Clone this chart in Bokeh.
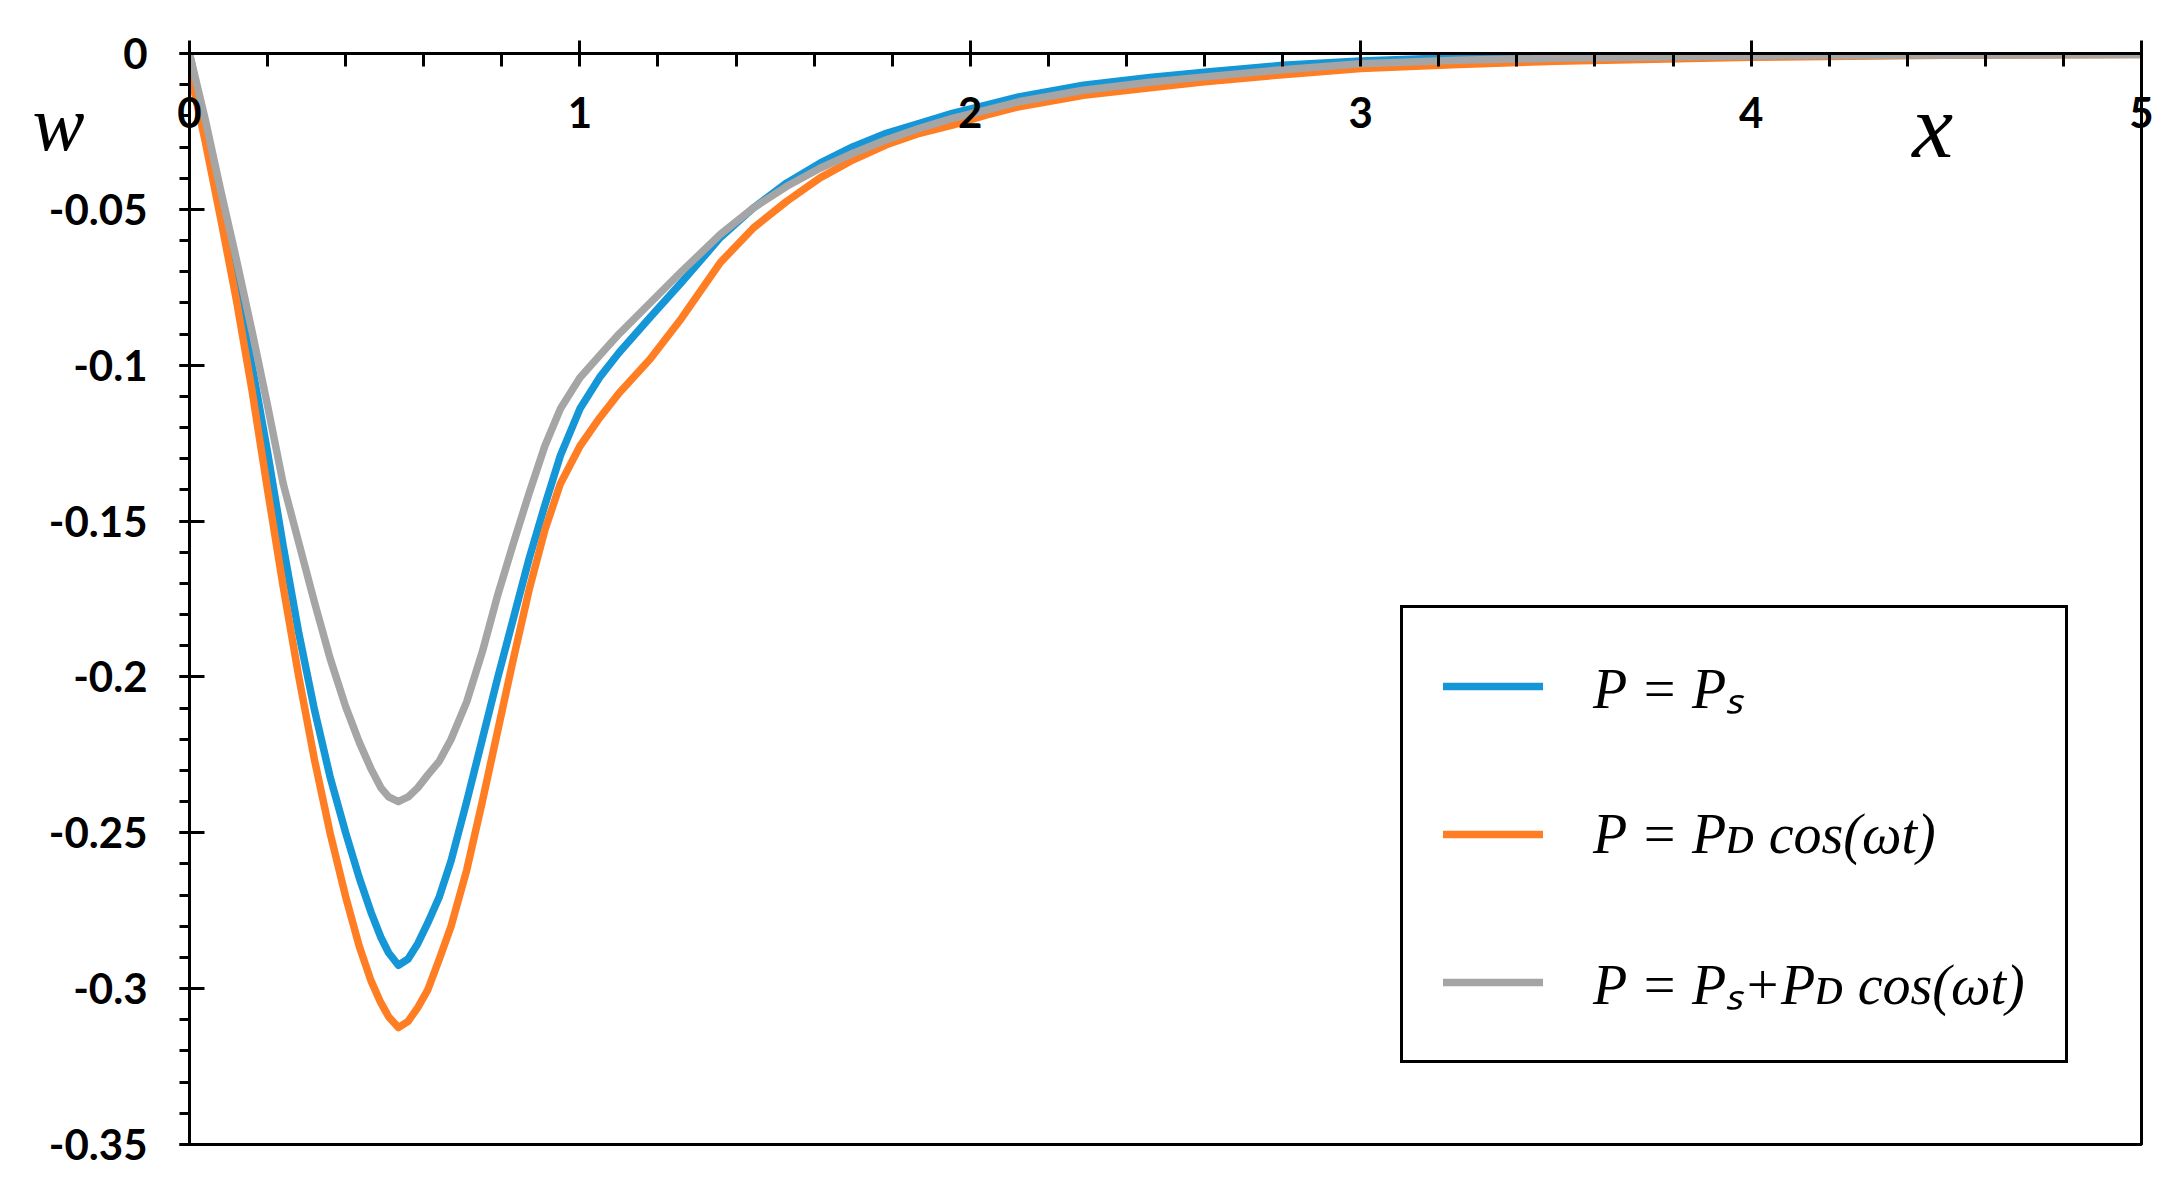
from bokeh.plotting import figure
from bokeh.models import (Range1d, FixedTicker, Legend, LegendItem, Label, LinearAxis,
                          CustomJSTickFormatter)
from bokeh.embed import file_html
from bokeh.resources import INLINE

# ---- data ----
x_blue = [0, 0.04, 0.08, 0.12, 0.16, 0.20, 0.24, 0.28, 0.32, 0.36, 0.40, 0.435, 0.465, 0.49,
          0.51, 0.535, 0.56, 0.585, 0.61, 0.64, 0.67, 0.71, 0.75, 0.79, 0.83, 0.87, 0.91,
          0.95, 1.00, 1.05, 1.10, 1.18, 1.26, 1.36, 1.445, 1.53, 1.615, 1.70, 1.785, 1.87,
          1.954, 2.04, 2.124, 2.29, 2.46, 2.60, 2.80, 3.00, 3.25, 3.50, 4.00, 4.50, 5.00]
w_blue = [0, -0.024, -0.049, -0.074, -0.100, -0.128, -0.158, -0.186, -0.2105, -0.232,
          -0.250, -0.2645, -0.2755, -0.2835, -0.2885, -0.2925, -0.2905, -0.2855, -0.279,
          -0.2705, -0.259, -0.240, -0.220, -0.200, -0.181, -0.162, -0.145, -0.129, -0.114,
          -0.104, -0.096, -0.0846, -0.0735, -0.059, -0.0495, -0.0415, -0.0352, -0.0299,
          -0.0256, -0.0224, -0.0192, -0.0166, -0.0139, -0.0102, -0.0077, -0.006, -0.0038,
          -0.0024, -0.0013, -0.0007, -0.0003, -0.0001, 0]

x_orange = [0, 0.04, 0.08, 0.12, 0.16, 0.20, 0.24, 0.28, 0.32, 0.36, 0.40, 0.435, 0.465,
            0.49, 0.51, 0.535, 0.56, 0.585, 0.61, 0.64, 0.67, 0.71, 0.75, 0.79, 0.83, 0.87,
            0.91, 0.95, 1.00, 1.05, 1.10, 1.18, 1.26, 1.36, 1.445, 1.53, 1.615, 1.70,
            1.785, 1.87, 1.954, 2.04, 2.124, 2.29, 2.46, 2.60, 2.80, 3.00, 3.25, 3.50,
            4.00, 4.50, 5.00]
w_orange = [-0.005, -0.028, -0.053, -0.079, -0.108, -0.140, -0.171, -0.200, -0.2265,
            -0.250, -0.2705, -0.2865, -0.2975, -0.3045, -0.309, -0.3125, -0.3105, -0.306,
            -0.3005, -0.2905, -0.280, -0.262, -0.240, -0.217, -0.194, -0.172, -0.153,
            -0.138, -0.126, -0.117, -0.109, -0.098, -0.085, -0.067, -0.0559, -0.0474,
            -0.0399, -0.0341, -0.0293, -0.0256, -0.023, -0.0198, -0.0171, -0.0134, -0.011,
            -0.0091, -0.0068, -0.0048, -0.0035, -0.0025, -0.0012, -0.0006, -0.0003]

x_gray = [0, 0.04, 0.08, 0.12, 0.16, 0.20, 0.24, 0.28, 0.32, 0.36, 0.40, 0.435, 0.465, 0.49,
          0.51, 0.535, 0.56, 0.585, 0.61, 0.64, 0.67, 0.71, 0.75, 0.79, 0.83, 0.87, 0.91,
          0.95, 1.00, 1.05, 1.10, 1.18, 1.26, 1.36, 1.445, 1.53, 1.615, 1.70, 1.785, 1.87,
          1.954, 2.04, 2.124, 2.29, 2.46, 2.60, 2.80, 3.00, 3.25, 3.50, 4.00, 4.50, 5.00]
w_gray = [0, -0.021, -0.044, -0.066, -0.089, -0.113, -0.138, -0.157, -0.176, -0.194,
          -0.2095, -0.221, -0.2295, -0.2355, -0.2385, -0.2400, -0.2385, -0.2355, -0.2315,
          -0.227, -0.220, -0.208, -0.192, -0.1735, -0.157, -0.141, -0.126, -0.114, -0.104,
          -0.097, -0.090, -0.080, -0.070, -0.058, -0.0495, -0.0426, -0.0368, -0.032,
          -0.0277, -0.024, -0.0208, -0.0182, -0.0155, -0.0118, -0.0092, -0.0075, -0.0052,
          -0.0033, -0.0022, -0.0015, -0.0008, -0.0005, -0.0003]

series_labels = ["P = Pₛ", "P = Pᴅ cos(ωt)", "P = Pₛ+Pᴅ cos(ωt)"]
x_name = "x"
w_name = "w"
w_name_pos = [-0.0224]          # vertical place of the "w" name along the y axis
x_ticks = [0, 1, 2, 3, 4, 5]
x_minor_ticks = [round(i * 0.2, 2) for i in range(26)]
y_ticks = [0, -0.05, -0.1, -0.15, -0.2, -0.25, -0.3, -0.35]
y_minor_ticks = [round(-i * 0.01, 2) for i in range(36)]

BLUE = "#1496d7"
ORANGE = "#ff7d23"
GRAY = "#a5a5a5"
TICK_FONT = "Lato"
NAME_FONT = "Liberation Serif"
LINE_W = 7.5

p = figure(width=2166, height=1179, output_backend="svg", toolbar_location=None,
           x_range=Range1d(0, 5), y_range=Range1d(-0.35, 0),
           x_axis_location="above",
           min_border_left=189, min_border_top=53, min_border_right=25,
           min_border_bottom=35)
p.grid.visible = False
p.outline_line_color = "black"
p.outline_line_width = 3
p.background_fill_color = "white"

# x axis (top, labels drawn below the line)
xa = p.xaxis[0]
xa.ticker = FixedTicker(ticks=x_ticks, minor_ticks=x_minor_ticks)
xa.axis_line_width = 3
xa.major_tick_line_width = 3
xa.minor_tick_line_width = 3
xa.major_tick_out = 13
xa.major_tick_in = 12
xa.minor_tick_out = 0
xa.minor_tick_in = 13
xa.major_label_standoff = -87
xa.major_label_text_font = TICK_FONT
xa.major_label_text_font_style = "bold"
xa.major_label_text_font_size = "42px"
xa.major_label_text_color = "black"

ya = p.yaxis[0]
ya.ticker = FixedTicker(ticks=y_ticks, minor_ticks=y_minor_ticks)
ya.formatter = CustomJSTickFormatter(code="return String(parseFloat(tick.toFixed(2)));")
ya.axis_line_width = 3
ya.major_tick_line_width = 3
ya.minor_tick_line_width = 3
ya.major_tick_out = 10
ya.major_tick_in = 15
ya.minor_tick_out = 10
ya.minor_tick_in = 0
ya.major_label_standoff = 32
ya.major_label_text_font = TICK_FONT
ya.major_label_text_font_style = "bold"
ya.major_label_text_font_size = "42px"
ya.major_label_text_color = "black"

# second, label-only axis on the left carrying the name "w"
name_axis = LinearAxis(ticker=FixedTicker(ticks=w_name_pos, minor_ticks=[]),
                       formatter=CustomJSTickFormatter(code="return '%s';" % w_name),
                       axis_line_color=None, major_tick_line_color=None,
                       minor_tick_line_color=None, major_tick_out=0, major_tick_in=0,
                       minor_tick_out=0, minor_tick_in=0, major_label_standoff=-39,
                       major_label_text_font=NAME_FONT,
                       major_label_text_font_style="italic",
                       major_label_text_font_size="78px",
                       major_label_text_color="black")
p.add_layout(name_axis, "left")

r_b = p.line(x_blue, w_blue, line_color=BLUE, line_width=LINE_W, line_cap="round",
             line_join="round")
r_o = p.line(x_orange, w_orange, line_color=ORANGE, line_width=LINE_W, line_cap="round",
             line_join="round")
r_g = p.line(x_gray, w_gray, line_color=GRAY, line_width=LINE_W, line_cap="round",
             line_join="round")

legend = Legend(items=[LegendItem(label=series_labels[0], renderers=[r_b]),
                       LegendItem(label=series_labels[1], renderers=[r_o]),
                       LegendItem(label=series_labels[2], renderers=[r_g])],
                location=(1211, 81), orientation="vertical", margin=0,
                border_line_color="black", border_line_width=3, border_line_alpha=1,
                padding=40, spacing=78, glyph_width=100, glyph_height=54,
                label_height=54, label_standoff=50,
                label_text_font=NAME_FONT, label_text_font_style="italic",
                label_text_font_size="56px", label_text_color="black",
                background_fill_color="white", background_fill_alpha=1)
p.add_layout(legend)

p.add_layout(Label(x=4.465, y=-0.0234, text=x_name, text_font=NAME_FONT,
                   text_font_style="italic", text_font_size="92px",
                   text_align="center", text_baseline="middle", text_color="black"))

open("out.html", "w").write(file_html(p, INLINE))
